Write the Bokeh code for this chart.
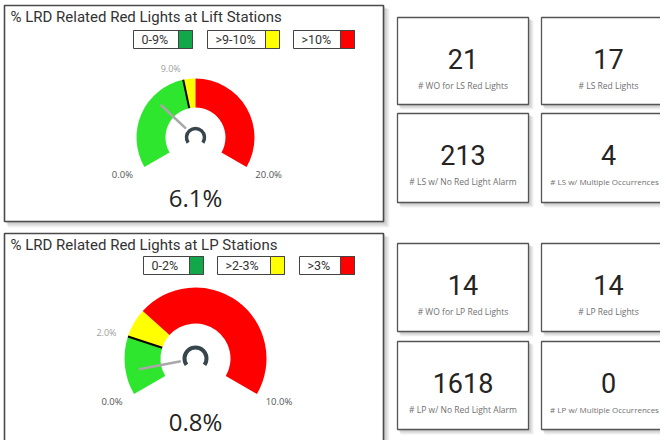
import math
from bokeh.plotting import figure
from bokeh.models import Range1d
from bokeh.embed import file_html
from bokeh.resources import INLINE
from bokeh.core.properties import value

# ---------------- data ----------------
ls_title = "% LRD Related Red Lights at Lift Stations"
ls_gauge_min = 0.0
ls_gauge_max = 20.0
ls_target = 9.0
ls_value = 6.1
ls_band_edges = [0.0, 9.0, 10.0, 20.0]
ls_legend_labels = ["0-9%", ">9-10%", ">10%"]

lp_title = "% LRD Related Red Lights at LP Stations"
lp_gauge_min = 0.0
lp_gauge_max = 10.0
lp_target = 2.0
lp_value = 0.8
lp_band_edges = [0.0, 2.0, 3.0, 10.0]
lp_legend_labels = ["0-2%", ">2-3%", ">3%"]

ls_card_values = [21, 17, 213, 4]
ls_card_labels = ["# WO for LS Red Lights", "# LS Red Lights",
                  "# LS w/ No Red Light Alarm", "# LS w/ Multiple Occurrences"]
lp_card_values = [14, 14, 1618, 0]
lp_card_labels = ["# WO for LP Red Lights", "# LP Red Lights",
                  "# LP w/ No Red Light Alarm", "# LP w/ Multiple Occurrences"]

# ---------------- styles ----------------
band_colors = ["#2EE62E", "#FFFF00", "#FF0000"]
swatch_colors = ["#12A84A", "#FFFF00", "#FF0000"]
TXT = "#252423"
BORDER = "#555555"
TITLE_FONT = value("Roboto")
NUM_FONT = value("Roboto")
LABEL_FONT = value("Open Sans")

# ---------------- canvas (pixel-like coordinates, y measured downward) ----------------
W, H = 660, 440
X0, Y0 = 0, 0
REF_H = 448


def Y(y):
    return REF_H - y


p = figure(width=W, height=H, x_range=Range1d(X0, X0 + W),
           y_range=Range1d(Y(Y0 + H), Y(Y0)), output_backend="svg",
           toolbar_location=None, min_border=0)
p.axis.visible = False
p.grid.visible = False
p.outline_line_color = None
p.background_fill_color = "white"
p.border_fill_color = "white"


def shadow(l, r, t, b, n=6, alpha=0.045):
    for i in range(1, n + 1):
        p.quad(left=[l + i * 0.6], right=[r + i], top=[Y(t + i * 0.6)], bottom=[Y(b + i)],
               fill_color="#000000", fill_alpha=alpha, line_color=None)


def box(l, r, t, b, lw=1.3, color=BORDER):
    p.quad(left=[l], right=[r], top=[Y(t)], bottom=[Y(b)], fill_color="white",
           line_color=color, line_width=lw)


def pt(cx, cy, rad, ang):
    return cx + rad * math.cos(ang), Y(cy) + rad * math.sin(ang)


def gauge(panel, title, title_y, legend_labels, legend_boxes, legend_y,
          cx, cy, r_in, r_out, vmin, vmax, edges, target, val, value_dy, icon_r, icon_w):
    l, r, t, b = panel
    shadow(l, r, t, b)
    box(l, r, t, b, lw=1.6, color="#4a4a4a")
    p.text(x=[l + 6], y=[Y(title_y)], text=[title], text_font=TITLE_FONT,
           text_font_size="15px", text_color="#333333", text_baseline="middle")
    # legend boxes
    for lab, (bl, br), col in zip(legend_labels, legend_boxes, swatch_colors):
        p.quad(left=[bl], right=[br], top=[Y(legend_y[0])], bottom=[Y(legend_y[1])],
               fill_color="white", line_color="#444444", line_width=1)
        p.quad(left=[br - 14], right=[br], top=[Y(legend_y[0])], bottom=[Y(legend_y[1])],
               fill_color=col, line_color="#444444", line_width=1)
        p.text(x=[bl + 8], y=[Y((legend_y[0] + legend_y[1]) / 2)], text=[lab],
               text_font=TITLE_FONT, text_font_size="12.5px", text_color="#333333",
               text_baseline="middle")

    def ang(v):
        return math.radians(210 - (v - vmin) / (vmax - vmin) * 240)

    # bands
    for e0, e1, col in zip(edges[:-1], edges[1:], band_colors):
        p.annular_wedge(x=[cx], y=[Y(cy)], inner_radius=r_in, outer_radius=r_out,
                        start_angle=ang(e1), end_angle=ang(e0), direction="anticlock",
                        fill_color=col, line_color=None)
    # target marker
    a = ang(target)
    x1, y1 = pt(cx, cy, r_in, a)
    x2, y2 = pt(cx, cy, r_out, a)
    p.segment(x0=[x1], y0=[y1], x1=[x2], y1=[y2], line_color="black", line_width=2)
    # target label
    tx, ty = pt(cx, cy, r_out + 12, a)
    p.text(x=[tx], y=[ty], text=[f"{target:.1f}%"], text_font=LABEL_FONT,
           text_font_size="9px", text_color="#a0a0a0", text_align="right",
           text_baseline="middle")
    # min / max labels
    mx, my = pt(cx, cy, r_out, ang(vmin))
    p.text(x=[mx - 22], y=[my - 7], text=[f"{vmin:.1f}%"], text_font=LABEL_FONT,
           text_font_size="9.5px", text_color="#555555", text_align="center",
           text_baseline="middle")
    mx, my = pt(cx, cy, r_out, ang(vmax))
    p.text(x=[mx + 22], y=[my - 7], text=[f"{vmax:.1f}%"], text_font=LABEL_FONT,
           text_font_size="9.5px", text_color="#555555", text_align="center",
           text_baseline="middle")
    # needle
    a = ang(val)
    x1, y1 = pt(cx, cy, icon_r + 4, a)
    x2, y2 = pt(cx, cy, r_out * 0.81, a)
    p.segment(x0=[x1], y0=[y1], x1=[x2], y1=[y2], line_color="#a8a8a8", line_width=2.5)
    # center icon
    p.arc(x=[cx], y=[Y(cy)], radius=icon_r, start_angle=math.radians(-35),
          end_angle=math.radians(215), direction="anticlock", line_color="#37454c",
          line_width=icon_w)
    # value
    p.text(x=[cx], y=[Y(cy + value_dy)], text=[f"{val:.1f}%"], text_font=LABEL_FONT,
           text_font_size="24px", text_color=TXT, text_align="center",
           text_baseline="middle")


def cards(rows, cols, vals, labels):
    cells = [(c, rw) for rw in rows for c in cols]
    for (cl, cr), (rt, rb) in cells:
        shadow(cl, cr, rt, rb, n=5, alpha=0.05)
    for ((cl, cr), (rt, rb)), v, lab in zip(cells, vals, labels):
        box(cl, cr, rt, rb, lw=1.3)
        xc = (cl + cr) / 2
        lab_x, lab_size = xc, "8.5px"
        if cr > W:
            xc = cl + 67
            lab_x = cl + 63 if len(lab) > 20 else xc
            lab_size = "8px" if len(lab) > 20 else "8.5px"
        p.text(x=[xc], y=[Y(rt + 41)], text=[str(v)], text_font=NUM_FONT,
               text_font_size="27px", text_color=TXT, text_align="center",
               text_baseline="middle")
        p.text(x=[lab_x], y=[Y(rt + 67.5)], text=[lab], text_font=LABEL_FONT,
               text_font_size=lab_size, text_color="#707070", text_align="center",
               text_baseline="middle")


gauge((4, 383, 5, 221), ls_title, 16, ls_legend_labels,
      [(133, 192), (207, 279), (293, 354)], (30, 48),
      195, 137, 30, 59, ls_gauge_min, ls_gauge_max, ls_band_edges, ls_target, ls_value,
      60, 9, 3.5)
gauge((4, 383, 233, 470), lp_title, 244, lp_legend_labels,
      [(143, 203), (217, 284), (299, 354)], (256, 274),
      195, 358, 35, 71, lp_gauge_min, lp_gauge_max, lp_band_edges, lp_target, lp_value,
      63, 11, 4)

cards([(17, 104), (113, 202)], [(397, 528), (541, 674)], ls_card_values, ls_card_labels)
cards([(243, 331), (341, 429)], [(397, 528), (541, 674)], lp_card_values, lp_card_labels)

open("out.html", "w").write(file_html(p, INLINE))
